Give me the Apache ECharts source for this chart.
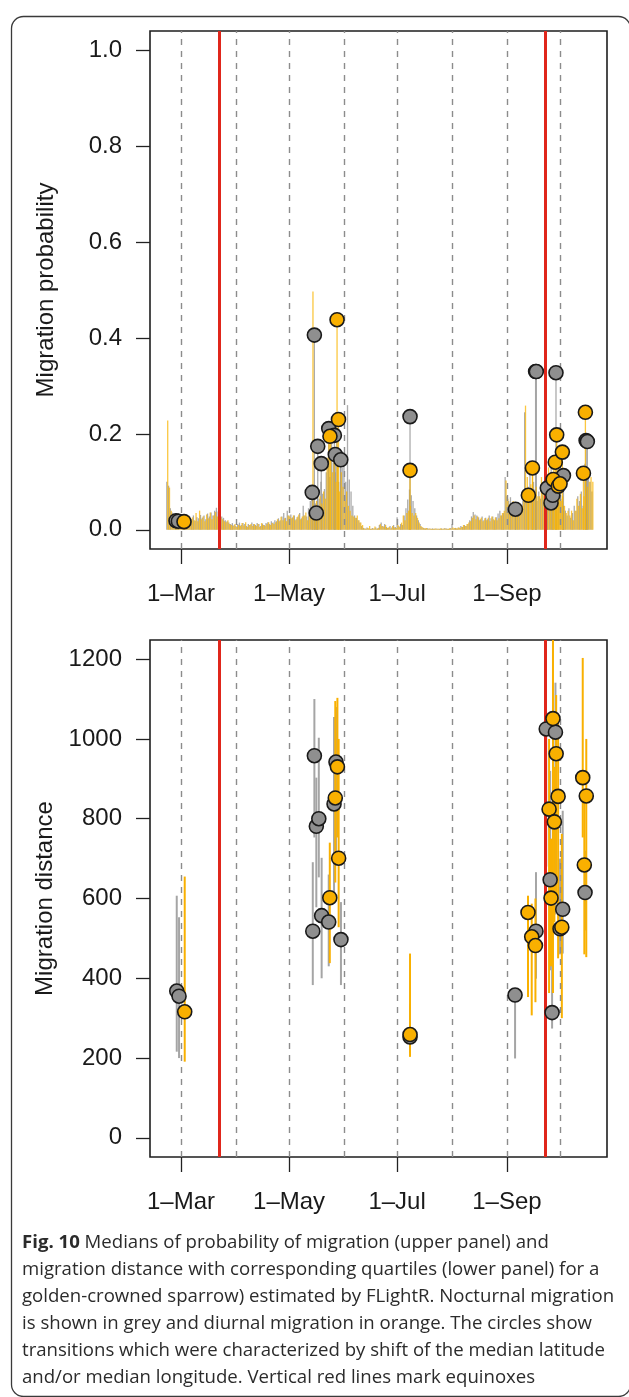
<!DOCTYPE html>
<html>
<head>
<meta charset="utf-8">
<script src="https://cdn.jsdelivr.net/npm/echarts@6/dist/echarts.min.js"></script>
<style>
  html, body { margin: 0; padding: 0; background: #fff; }
  #chart { width: 629px; height: 1397px; }
</style>
</head>
<body>
<div id="chart"></div>
<script>
// x is counted in days from 1 March
const monthStarts = [0, 31, 61, 92, 122, 153, 184, 214];
const equinoxes = [21.6, 205.8];
const tickDays = [0, 61, 122, 184];
const tickLabels = ['1–Mar', '1–May', '1–Jul', '1–Sep'];
const probTicks = [0, 0.2, 0.4, 0.6, 0.8, 1.0];
const distTicks = [0, 200, 400, 600, 800, 1000, 1200];

// daily migration probability, first value is day -8 (21 Feb)
const firstDay = -8;
const greyProb = [
  0.100, 0.092, 0.045, 0.036, 0.030, 0.019, 0.026, 0.018, 0.022, 0.018,
  0.020, 0.025, 0.018, 0.028, 0.022, 0.030, 0.019, 0.026, 0.024, 0.031,
  0.025, 0.030, 0.022, 0.034, 0.028, 0.036, 0.030, 0.040, 0.046, 0.038,
  0.034, 0.028, 0.025, 0.020, 0.018, 0.015, 0.012, 0.014, 0.010, 0.008,
  0.012, 0.015, 0.010, 0.014, 0.012, 0.008, 0.012, 0.010, 0.015, 0.012,
  0.010, 0.014, 0.012, 0.008, 0.013, 0.010, 0.014, 0.016, 0.012, 0.018,
  0.015, 0.020, 0.018, 0.024, 0.020, 0.028, 0.035, 0.025, 0.040, 0.030,
  0.032, 0.026, 0.030, 0.022, 0.028, 0.035, 0.024, 0.050, 0.030, 0.028,
  0.045, 0.060, 0.080, 0.070, 0.055, 0.090, 0.065, 0.100, 0.075, 0.085,
  0.120, 0.150, 0.110, 0.180, 0.140, 0.120, 0.200, 0.100, 0.150, 0.130,
  0.140, 0.100, 0.260, 0.105, 0.080, 0.050, 0.030, 0.025, 0.020, 0.015,
  0.008, 0.004, 0.003, 0.005, 0.003, 0.002, 0.004, 0.003, 0.005, 0.003,
  0.010, 0.015, 0.008, 0.012, 0.006, 0.004, 0.008, 0.005, 0.010, 0.006,
  0.026, 0.008, 0.012, 0.010, 0.030, 0.045, 0.063, 0.084, 0.072, 0.060,
  0.045, 0.030, 0.020, 0.012, 0.006, 0.004, 0.003, 0.004, 0.003, 0.002,
  0.003, 0.002, 0.003, 0.002, 0.002, 0.003, 0.002, 0.004, 0.003, 0.002,
  0.004, 0.012, 0.003, 0.004, 0.003, 0.005, 0.008, 0.006, 0.010, 0.008,
  0.012, 0.020, 0.028, 0.037, 0.032, 0.030, 0.026, 0.022, 0.028, 0.020,
  0.025, 0.022, 0.030, 0.024, 0.028, 0.020, 0.026, 0.034, 0.040, 0.030,
  0.035, 0.110, 0.070, 0.060, 0.068, 0.050, 0.045, 0.055, 0.040, 0.050,
  0.045, 0.060, 0.245, 0.080, 0.090, 0.120, 0.070, 0.100, 0.085, 0.060,
  0.080, 0.065, 0.090, 0.070, 0.100, 0.085, 0.060, 0.150, 0.090, 0.120,
  0.090, 0.070, 0.110, 0.060, 0.050, 0.040, 0.030, 0.045, 0.025, 0.035,
  0.050, 0.040, 0.070, 0.060, 0.080, 0.050, 0.138, 0.117, 0.120, 0.100,
  0.080
];
const orangeProb = [
  0.228, 0.088, 0.040, 0.032, 0.026, 0.022, 0.020, 0.024, 0.016, 0.017,
  0.018, 0.022, 0.030, 0.016, 0.026, 0.020, 0.035, 0.018, 0.040, 0.022,
  0.028, 0.018, 0.032, 0.024, 0.036, 0.022, 0.030, 0.037, 0.028, 0.033,
  0.026, 0.022, 0.018, 0.016, 0.020, 0.012, 0.010, 0.008, 0.012, 0.006,
  0.010, 0.008, 0.014, 0.009, 0.016, 0.006, 0.010, 0.012, 0.008, 0.012,
  0.008, 0.012, 0.006, 0.014, 0.010, 0.008, 0.012, 0.016, 0.010, 0.014,
  0.012, 0.016, 0.022, 0.018, 0.027, 0.020, 0.024, 0.018, 0.030, 0.028,
  0.024, 0.030, 0.020, 0.026, 0.032, 0.022, 0.028, 0.030, 0.036, 0.020,
  0.030, 0.040, 0.497, 0.045, 0.060, 0.050, 0.070, 0.055, 0.080, 0.065,
  0.150, 0.180, 0.200, 0.120, 0.170, 0.100, 0.140, 0.080, 0.120, 0.090,
  0.060, 0.080, 0.050, 0.040, 0.030, 0.028, 0.025, 0.030, 0.020, 0.015,
  0.010, 0.003, 0.002, 0.004, 0.008, 0.002, 0.003, 0.007, 0.002, 0.004,
  0.012, 0.008, 0.006, 0.010, 0.004, 0.006, 0.003, 0.008, 0.005, 0.004,
  0.010, 0.006, 0.015, 0.030, 0.020, 0.035, 0.040, 0.050, 0.035, 0.030,
  0.035, 0.025, 0.015, 0.008, 0.005, 0.003, 0.004, 0.002, 0.003, 0.002,
  0.002, 0.003, 0.002, 0.002, 0.003, 0.002, 0.003, 0.002, 0.002, 0.003,
  0.003, 0.005, 0.004, 0.003, 0.005, 0.004, 0.006, 0.010, 0.008, 0.012,
  0.015, 0.018, 0.025, 0.030, 0.022, 0.028, 0.020, 0.025, 0.018, 0.024,
  0.020, 0.025, 0.018, 0.028, 0.022, 0.026, 0.020, 0.024, 0.030, 0.035,
  0.040, 0.103, 0.065, 0.050, 0.045, 0.060, 0.050, 0.040, 0.055, 0.035,
  0.050, 0.070, 0.259, 0.110, 0.080, 0.095, 0.120, 0.075, 0.090, 0.070,
  0.070, 0.110, 0.080, 0.060, 0.090, 0.130, 0.085, 0.100, 0.140, 0.080,
  0.100, 0.080, 0.065, 0.070, 0.050, 0.035, 0.040, 0.030, 0.040, 0.020,
  0.040, 0.065, 0.050, 0.075, 0.045, 0.070, 0.103, 0.090, 0.100, 0.110,
  0.100
];

// transitions in the upper panel: [day, probability]
const greyProbPts = [
  [-2.8, 0.019], [-1.5, 0.018], [74.1, 0.078], [75.3, 0.406], [76.4, 0.035],
  [77.2, 0.174], [79.2, 0.138], [83.4, 0.211], [86.6, 0.197], [87.1, 0.157],
  [90.2, 0.146], [129.3, 0.236], [188.8, 0.043], [200.2, 0.330], [200.6, 0.330],
  [206.8, 0.087], [208.9, 0.056], [209.9, 0.072], [211.7, 0.3275], [215.9, 0.113],
  [228.7, 0.186], [229.4, 0.184]
];
const orangeProbPts = [
  [1.7, 0.017], [84.1, 0.195], [88.1, 0.438], [88.9, 0.230], [129.3, 0.124],
  [196.1, 0.072], [198.4, 0.129], [210.1, 0.105], [211.3, 0.141], [212.1, 0.198],
  [213.0, 0.091], [214.0, 0.096], [215.3, 0.162], [227.2, 0.118], [228.3, 0.245]
];

// transitions in the lower panel: [day, median, lower quartile, upper quartile]
const greyDist = [
  [-2.4, 368, 216, 607], [-1.1, 355, 200, 553],
  [74.4, 518, 383, 691], [75.3, 958, 753, 1100], [76.4, 781, 578, 903],
  [77.8, 800, 653, 1003], [79.4, 557, 400, 702], [83.4, 541, 430, 660],
  [86.4, 837, 595, 1055], [87.5, 942, 700, 1080], [90.3, 497, 383, 591],
  [129.3, 253, 212, 337],
  [188.6, 358, 199, 362], [200.4, 518, 399, 666], [206.2, 1025, 680, 1060],
  [208.4, 647, 420, 920], [209.5, 314, 274, 700], [211.4, 1017, 560, 1141],
  [214.0, 524, 460, 700], [215.5, 573, 462, 820], [228.1, 615, 520, 720]
];
const orangeDist = [
  [2.1, 316, 191, 655],
  [84.0, 602, 438, 740], [87.1, 852, 640, 1095], [88.3, 930, 753, 1103], [89.0, 701, 528, 1000],
  [129.3, 259, 203, 462],
  [195.9, 565, 353, 607], [198.0, 504, 307, 587], [200.1, 482, 340, 600],
  [207.8, 824, 363, 1000], [208.9, 601, 430, 750], [210.0, 1051, 363, 1260],
  [210.8, 792, 540, 930], [211.8, 963, 600, 1110], [212.9, 856, 450, 1050],
  [215.0, 528, 300, 762], [226.8, 903, 753, 1203], [227.7, 684, 460, 840],
  [228.8, 857, 453, 1000]
];

const caption = [
  '{b|Fig. 10} Medians of probability of migration (upper panel) and',
  'migration distance with corresponding quartiles (lower panel) for a',
  'golden-crowned sparrow) estimated by FLightR. Nocturnal migration',
  'is shown in grey and diurnal migration in orange. The circles show',
  'transitions which were characterized by shift of the median latitude',
  'and/or median longitude. Vertical red lines mark equinoxes'
];

const GREY = '#8f8f8f';
const ORANGE = '#f9b000';
const AXIS_FONT = 'Liberation Sans';

let chart = echarts.init(document.getElementById('chart'));

function xAxisCfg(idx) {
  return {
    type: 'value', gridIndex: idx, min: -17.5, max: 240.5,
    axisLine: { show: false, onZero: false },
    splitLine: { show: false },
    axisTick: { show: true, length: 15, customValues: tickDays, lineStyle: { color: '#222', width: 1.3 } },
    axisLabel: {
      customValues: tickDays, margin: 33, fontSize: 24, fontFamily: AXIS_FONT, color: '#1a1a1a',
      formatter: v => tickLabels[tickDays.indexOf(v)]
    }
  };
}
function yAxisCfg(idx, min, max, ticks, name, fmt) {
  return {
    type: 'value', gridIndex: idx, min: min, max: max,
    name: name, nameLocation: 'middle', nameGap: 92,
    nameTextStyle: { fontSize: 24, fontFamily: AXIS_FONT, color: '#1a1a1a' },
    axisLine: { show: false, onZero: false },
    splitLine: { show: false },
    axisTick: { show: true, length: 14, customValues: ticks, lineStyle: { color: '#222', width: 1.3 } },
    axisLabel: { customValues: ticks, margin: 28, fontSize: 24, fontFamily: AXIS_FONT, color: '#1a1a1a', formatter: fmt }
  };
}

function vlines(idx, days, style, z) {
  return {
    type: 'scatter', xAxisIndex: idx, yAxisIndex: idx, data: [], silent: true, z: z,
    markLine: {
      silent: true, symbol: ['none', 'none'], label: { show: false },
      lineStyle: style, data: days.map(d => ({ xAxis: d }))
    }
  };
}

function quartileLines(data, color) {
  return {
    type: 'custom', xAxisIndex: 1, yAxisIndex: 1, clip: true, z: 3, silent: true,
    data: data,
    encode: { x: 0, y: [2, 3] },
    renderItem: function (params, api) {
      let a = api.coord([api.value(0), api.value(2)]);
      let b = api.coord([api.value(0), api.value(3)]);
      return { type: 'line', shape: { x1: a[0], y1: a[1], x2: b[0], y2: b[1] }, style: { stroke: color, lineWidth: 2 } };
    }
  };
}

function circles(idx, data, color) {
  return {
    type: 'scatter', xAxisIndex: idx, yAxisIndex: idx, z: 5, silent: true,
    symbol: 'circle', symbolSize: 14,
    itemStyle: { color: color, borderColor: '#1a1a1a', borderWidth: 1.6, opacity: 1 },
    data: data
  };
}

const greyBars = greyProb.map((v, i) => [firstDay + i, v]).concat(greyProbPts);
const orangeBars = orangeProb.map((v, i) => [firstDay + i + 0.5, v]).concat(orangeProbPts);

const dashStyle = { type: [6, 6], color: '#8c8c8c', width: 1.4 };
const redStyle = { type: 'solid', color: '#e0261b', width: 3 };

let option = {
  animation: false,
  backgroundColor: '#fff',
  grid: [
    { left: 150, top: 31, width: 457, height: 518, show: true, borderColor: '#1e1e1e', borderWidth: 1.6, backgroundColor: 'transparent' },
    { left: 150, top: 640, width: 457, height: 517, show: true, borderColor: '#1e1e1e', borderWidth: 1.6, backgroundColor: 'transparent' }
  ],
  xAxis: [xAxisCfg(0), xAxisCfg(1)],
  yAxis: [
    yAxisCfg(0, -0.04, 1.04, probTicks, 'Migration probability', v => v.toFixed(1)),
    yAxisCfg(1, -48, 1248, distTicks, 'Migration distance', v => String(v))
  ],
  series: [
    vlines(0, monthStarts, dashStyle, 1),
    vlines(1, monthStarts, dashStyle, 1),
    {
      type: 'bar', xAxisIndex: 0, yAxisIndex: 0, barWidth: 1.3, barGap: '-100%', z: 2, silent: true,
      itemStyle: { color: 'rgba(150,150,150,0.8)' }, data: greyBars
    },
    {
      type: 'bar', xAxisIndex: 0, yAxisIndex: 0, barWidth: 1.3, barGap: '-100%', z: 2, silent: true,
      itemStyle: { color: 'rgba(250,180,0,0.75)' }, data: orangeBars
    },
    vlines(0, equinoxes, redStyle, 3),
    vlines(1, equinoxes, redStyle, 3),
    quartileLines(greyDist, '#a5a5a5'),
    quartileLines(orangeDist, ORANGE),
    circles(0, greyProbPts, GREY),
    circles(0, orangeProbPts, ORANGE),
    circles(1, greyDist.map(d => [d[0], d[1]]), GREY),
    circles(1, orangeDist.map(d => [d[0], d[1]]), ORANGE)
  ],
  graphic: [
    {
      type: 'rect', left: 9, top: 14, silent: true,
      shape: { x: 0, y: 0, width: 619, height: 1380, r: 12 },
      style: { fill: 'none', stroke: '#3a3a3a', lineWidth: 1.3 }
    }
  ].concat(caption.map((line, i) => ({
    type: 'text', left: 22, top: 1233 + i * 27, silent: true,
    style: {
      text: line, fontSize: 18.6, fontFamily: 'Open Sans', fill: '#2b2b2b',
      rich: { b: { fontSize: 18.6, fontFamily: 'Open Sans', fontWeight: 'bold', fill: '#2b2b2b' } }
    }
  })))
};

chart.setOption(option);
</script>
</body>
</html>
